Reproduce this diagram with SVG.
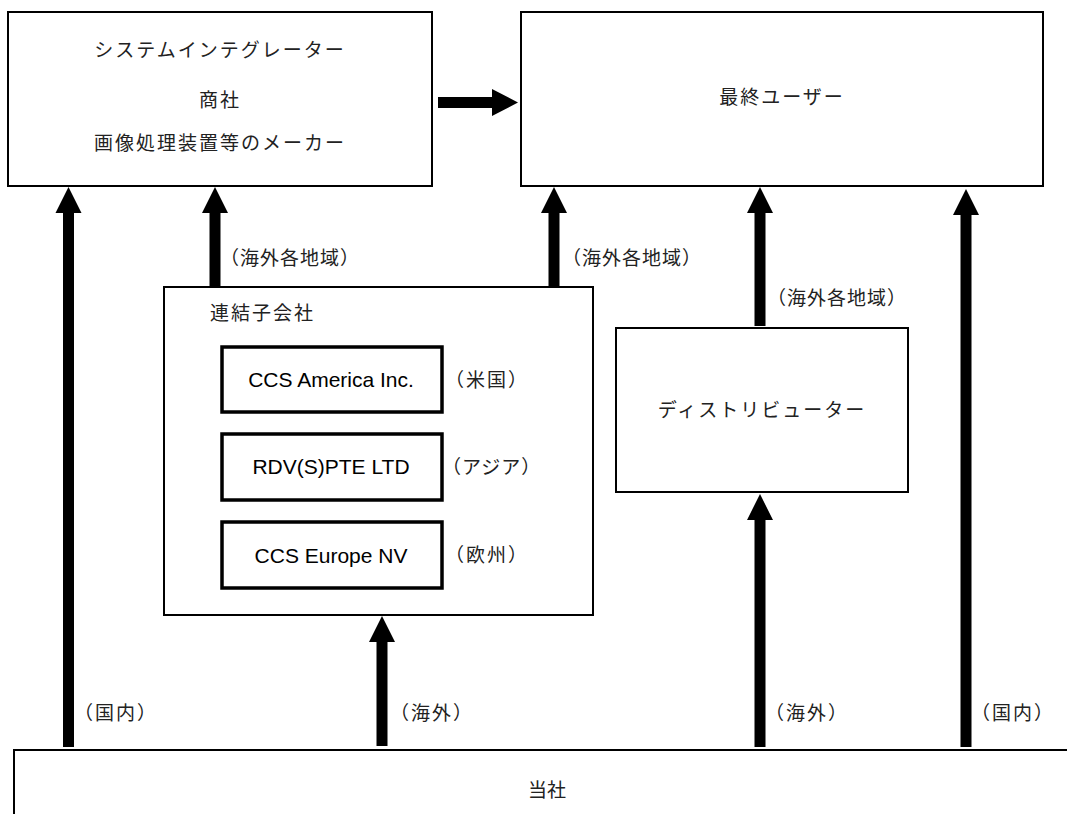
<svg xmlns="http://www.w3.org/2000/svg" width="1067" height="814" viewBox="0 0 1067 814">
<style>
.box{fill:#fff;stroke:#000;stroke-width:2}
.ibox{fill:#fff;stroke:#000;stroke-width:3.5}
.jp{font-family:"Liberation Serif","Noto Sans CJK JP",serif;fill:#222;font-size:19px}
.lbl{font-family:"Liberation Serif","Noto Sans CJK JP",serif;fill:#222;font-size:19px;letter-spacing:1px}
.sm{font-family:"Liberation Serif","Noto Sans CJK JP",serif;fill:#222;font-size:19px;letter-spacing:2px}
.en{font-family:"Liberation Sans",Arial,sans-serif;fill:#000;font-size:21px}
.arr{fill:#000}
</style>
<rect width="1067" height="814" fill="#fff"/>
<g id="integrators">
<rect class="box" x="8" y="12" width="424" height="174"/>
<text class="jp" x="220" y="57" text-anchor="middle" letter-spacing="2">システムインテグレーター</text>
<text class="jp" x="220" y="107" text-anchor="middle" letter-spacing="2">商社</text>
<text class="jp" x="220" y="150" text-anchor="middle" letter-spacing="2">画像処理装置等のメーカー</text>
</g>
<g id="endusers">
<rect class="box" x="521" y="12" width="522" height="174"/>
<text class="jp" x="782" y="104" text-anchor="middle" letter-spacing="2">最終ユーザー</text>
</g>
<g id="subsidiaries">
<rect class="box" x="164" y="287" width="429" height="328"/>
<text class="jp" x="210" y="320" letter-spacing="2">連結子会社</text>
</g>
<g id="ccs-america">
<rect class="ibox" x="222" y="347" width="220" height="65"/>
<text class="en" x="331" y="387" text-anchor="middle">CCS America Inc.</text>
<text class="sm" x="445" y="387">（米国）</text>
</g>
<g id="rdv">
<rect class="ibox" x="222" y="434" width="220" height="66"/>
<text class="en" x="331" y="474" text-anchor="middle">RDV(S)PTE LTD</text>
<text class="lbl" x="442" y="474" letter-spacing="1.5">（アジア）</text>
</g>
<g id="ccs-europe">
<rect class="ibox" x="222" y="522" width="220" height="66"/>
<text class="en" x="331" y="563" text-anchor="middle">CCS Europe NV</text>
<text class="sm" x="445" y="562">（欧州）</text>
</g>
<g id="distributor">
<rect class="box" x="616" y="328" width="292" height="164"/>
<text class="jp" x="762" y="417" text-anchor="middle" letter-spacing="2">ディストリビューター</text>
</g>
<g id="company">
<rect class="box" x="14" y="750" width="1070" height="80"/>
<text class="jp" x="547" y="797" text-anchor="middle">当社</text>
</g>
<g id="connectors">
<path class="arr" d="M438 97 H492 V89 L518 102.5 L492 116 V108 H438 Z"/>
<path class="arr" d="M63 747 V213 H55.5 L68.5 187 L81.5 213 H74 V747 Z"/>
<path class="arr" d="M209.5 286 V213 H202 L215 187 L228 213 H220.5 V286 Z"/>
<path class="arr" d="M548.5 286 V213 H541 L554 187 L567 213 H559.5 V286 Z"/>
<path class="arr" d="M754.5 326 V213 H747 L760 187 L773 213 H765.5 V326 Z"/>
<path class="arr" d="M960.5 747 V215 H953 L966 189 L979 215 H971.5 V747 Z"/>
<path class="arr" d="M376.5 746 V642 H369 L382 616 L395 642 H387.5 V746 Z"/>
<path class="arr" d="M754.5 747 V520 H747 L760 494 L773 520 H765.5 V747 Z"/>
<text class="lbl" x="220" y="265">（海外各地域）</text>
<text class="lbl" x="562" y="265">（海外各地域）</text>
<text class="lbl" x="767" y="305">（海外各地域）</text>
<text class="sm" x="74" y="720">（国内）</text>
<text class="sm" x="390" y="720">（海外）</text>
<text class="sm" x="765" y="720">（海外）</text>
<text class="sm" x="971" y="720">（国内）</text>
</g>
</svg>
